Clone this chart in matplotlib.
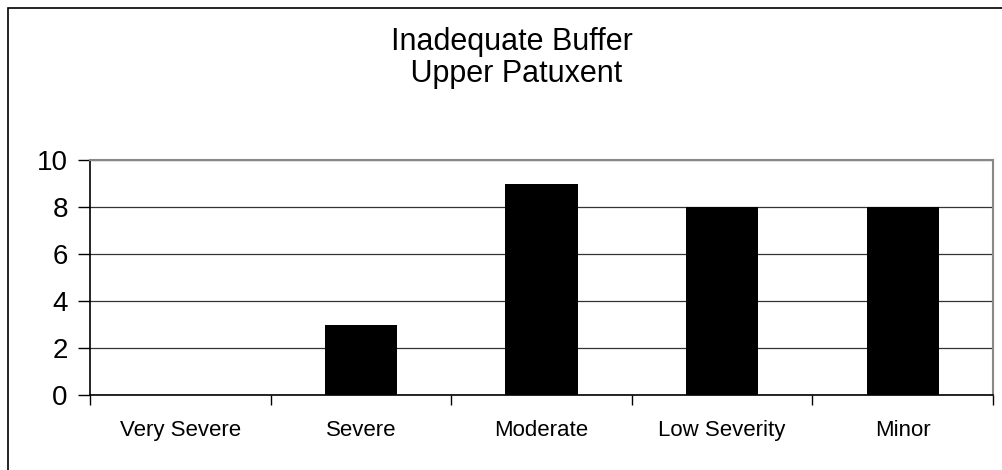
import matplotlib.pyplot as plt
import numpy as np
from matplotlib.patches import Rectangle

categories = ["Very Severe", "Severe", "Moderate", "Low Severity", "Minor"]
counts = [0, 3, 9, 8, 8]
yticks = [0, 2, 4, 6, 8, 10]

plt.rcParams['font.family'] = ['Liberation Sans', 'DejaVu Sans']

fig = plt.figure(figsize=(10.02, 4.70), dpi=100)
ax = fig.add_axes([90 / 1002, 75 / 470, 903 / 1002, 235 / 470])

x = np.arange(len(categories))
ax.bar(x, counts, width=0.4, color='black', zorder=3)

ax.set_xlim(-0.5, len(categories) - 0.5)
ax.set_ylim(0, 10)
ax.set_yticks(yticks)
ax.yaxis.grid(True, color='#333333', linewidth=0.9, zorder=0)

ax.set_xticks(x)
ax.set_xticklabels(categories, fontsize=16)
ax.set_xticks(np.arange(-0.5, len(categories)), minor=True)
ax.tick_params(axis='x', which='major', length=0, pad=18)
ax.tick_params(axis='x', which='minor', length=7, width=1, direction='out', color='black')
ax.tick_params(axis='y', length=9, width=1, direction='out', labelsize=20, pad=7)

for s in ['left', 'bottom']:
    ax.spines[s].set_color('black')
    ax.spines[s].set_linewidth(1.2)
for s in ['top', 'right']:
    ax.spines[s].set_color('#888888')
    ax.spines[s].set_linewidth(1.5)

fig.text(512 / 1002, 1 - 58 / 470, "Inadequate Buffer\n Upper Patuxent",
         ha='center', va='center', fontsize=22, linespacing=1.1)

fig.patches.append(Rectangle((8 / 1002, -0.1), 1.2, (462 / 470) + 0.1,
                             transform=fig.transFigure, fill=False,
                             edgecolor='black', linewidth=1.2))

fig.savefig('out.png', dpi=100)
